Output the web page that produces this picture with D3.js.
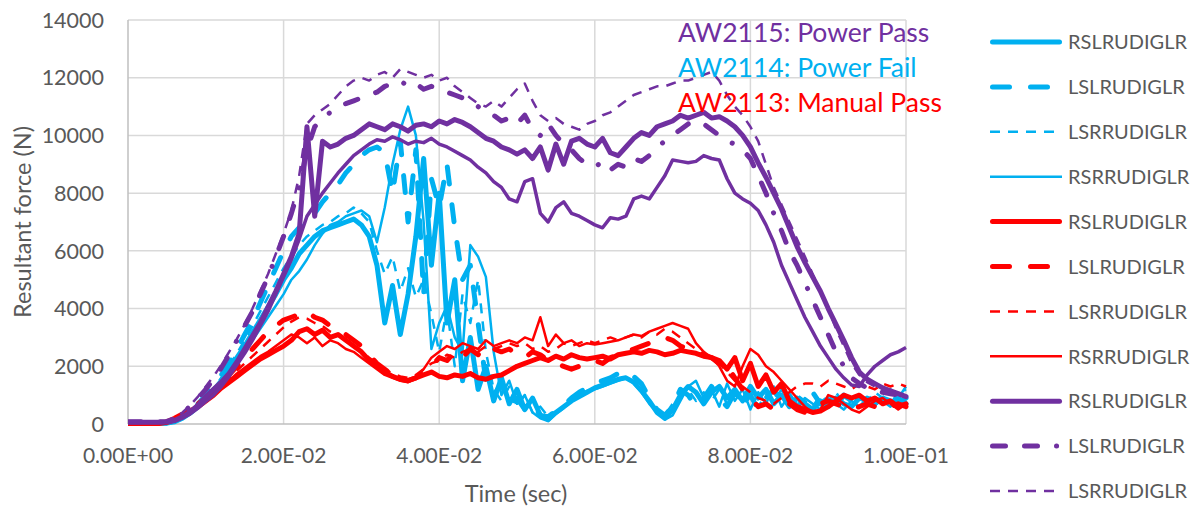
<!DOCTYPE html>
<html>
<head>
<meta charset="utf-8">
<script src="https://cdn.jsdelivr.net/npm/d3@7/dist/d3.min.js"></script>
<style>
  html, body { margin: 0; padding: 0; background: #ffffff; }
  svg { display: block; font-family: Lato, "Open Sans", sans-serif; }
</style>
</head>
<body>
<svg id="chart" width="1198" height="508"></svg>
<script>
// Sample times in milliseconds (1 ms resolution, 0 .. 100 ms)
const timeMs = d3.range(0, 101);

// Axis tick values and labels
const yTicks = [0, 2000, 4000, 6000, 8000, 10000, 12000, 14000];
const xTicks = [0, 0.02, 0.04, 0.06, 0.08, 0.1];
const xTickLabels = ["0.00E+00", "2.00E-02", "4.00E-02", "6.00E-02", "8.00E-02", "1.00E-01"];

// AW2114: Power Fail  (N)
const blueRSL = [
  20,20,20,20,20,30,80,200,380,600,
  850,1150,1500,1900,2300,2700,3150,3600,4050,4500,
  5000,5400,5900,6200,6500,6700,6800,6900,7000,7100,
  6900,6500,5500,3500,4800,3100,4500,6500,9200,5500,
  8000,3500,5000,1500,3000,1200,2000,800,1600,700,
  1200,500,900,300,150,400,600,800,950,1100,
  1250,1350,1450,1550,1600,1450,1150,800,400,200,
  500,1000,1300,1100,700,1100,1300,900,1200,800,
  1300,900,1200,700,1000,600,900,700,500,800,
  600,900,700,600,900,800,700,900,800,700,
  900];
const blueLSL = [
  20,20,20,20,20,40,100,250,450,700,
  1000,1300,1700,2100,2600,3100,3600,4200,4800,5400,
  6000,6500,6800,7000,7300,7700,8000,8300,8700,9000,
  9300,9500,9600,9400,8000,9800,7000,9500,4500,8500,
  7500,9000,6800,5000,5500,3500,1500,1000,1400,700,
  900,500,700,300,250,450,650,900,1100,1250,
  1400,1500,1600,1750,1850,1650,1400,900,500,300,
  600,1200,1000,600,900,1300,900,600,1100,700,
  1000,500,900,1200,700,1000,600,900,1100,700,
  900,600,1000,800,600,900,700,1000,800,900,
  700];
const blueLSR = [
  10,10,10,10,10,30,90,220,420,650,
  930,1250,1600,2000,2450,2900,3400,3900,4400,4900,
  5400,5800,6200,6500,6700,6900,7000,7200,7300,7500,
  7300,7000,6000,5200,5800,4600,5400,4400,5000,3800,
  2500,4000,2000,4500,3500,5000,2500,1200,800,1300,
  600,1000,400,600,250,400,600,850,1000,1150,
  1250,1350,1450,1550,1650,1450,1150,800,500,300,
  700,1000,1200,800,1100,800,1200,700,1000,800,
  1100,600,1000,800,1200,700,1000,800,600,1000,
  800,1100,700,900,1000,800,1100,900,1200,1000,
  1200];
const blueRSR = [
  10,10,10,10,10,20,70,180,350,550,
  800,1100,1400,1750,2100,2500,2900,3300,3700,4100,
  4500,5000,5300,5700,6200,6600,6900,7000,7200,7300,
  7400,7200,6300,7500,9000,10200,11000,10000,7000,2600,
  3500,4100,3000,2500,6200,5800,5100,2500,1000,1500,
  700,1000,400,200,100,350,550,800,950,1100,
  1200,1300,1400,1500,1600,1400,1100,700,400,150,
  300,800,1300,1500,900,1200,600,1400,800,1200,
  500,1100,700,1300,600,1000,500,900,700,500,
  900,700,500,800,600,900,700,800,600,900,
  1300];

// AW2113: Manual Pass  (N)
const redRSL = [
  0,0,0,0,20,60,150,300,450,600,
  800,1000,1250,1450,1650,1850,2050,2250,2400,2550,
  2700,2900,3200,3300,3100,3250,3000,3100,2900,2700,
  2500,2200,2000,1800,1650,1550,1500,1600,1700,1800,
  1650,1600,1700,1650,1750,1600,1550,1650,1700,1850,
  2000,2100,2200,2300,2200,2350,2250,2400,2300,2250,
  2300,2350,2250,2400,2450,2500,2450,2550,2500,2400,
  2450,2550,2500,2450,2350,2300,2200,1900,2300,1500,
  2100,1300,1700,1100,1400,800,600,500,400,450,
  600,800,1000,900,1000,800,900,700,800,600,
  700];
const redLSL = [
  0,0,0,0,30,80,200,350,500,700,
  900,1150,1400,1700,2000,2300,2600,2900,3200,3400,
  3600,3700,3800,3900,3700,3600,3400,3300,3100,2900,
  2700,2400,2100,1900,1700,1600,1500,1600,1800,2000,
  2300,2200,2500,2300,2600,2400,2700,2600,2500,2600,
  2400,2300,2500,2400,2200,2100,2000,1900,2000,2100,
  2200,2100,2300,2400,2500,2600,2700,2800,2900,3000,
  2900,2700,2600,2500,2400,2300,2100,2000,1600,1200,
  900,600,700,500,600,700,500,400,600,700,
  800,700,600,500,600,700,600,500,600,700,
  600];
const redLSR = [
  0,0,0,10,40,100,200,350,500,700,
  900,1100,1350,1600,1850,2100,2350,2600,2850,3100,
  3350,3550,3700,3650,3500,3400,3200,3100,2900,2700,
  2500,2300,2100,1900,1750,1650,1600,1700,1900,2100,
  2200,2400,2300,2500,2600,2500,2700,2600,2700,2800,
  2700,2800,2600,2700,2500,2600,2800,2700,2800,2900,
  2800,2900,3000,2900,3000,3100,3000,3200,3100,3300,
  3200,3000,2800,2600,2400,2300,2100,1800,1500,1300,
  1100,900,800,700,900,1100,1300,1400,1400,1300,
  1500,1400,1300,1200,1400,1300,1200,1400,1300,1400,
  1300];
const redRSR = [
  0,0,0,0,20,70,150,280,450,650,
  850,1050,1300,1500,1750,1950,2150,2350,2500,2700,
  2900,3100,3000,2800,3000,2700,2900,2800,2600,2500,
  2300,2100,1900,1700,1600,1500,1450,1600,1900,2300,
  2500,2700,2600,2800,2700,2600,2900,2700,2800,2900,
  2800,3000,2900,3700,2700,3100,2800,2900,2700,2800,
  2750,2800,2850,2900,3000,3100,3050,3200,3300,3400,
  3500,3400,3300,2800,2500,2300,2000,1500,1300,2000,
  2600,2400,2000,1800,1500,1200,900,600,400,500,
  1000,900,700,500,400,600,800,900,700,500,
  700];

// AW2115: Power Pass  (N)
const purpleRSL = [
  60,60,60,60,60,70,120,250,420,650,
  950,1200,1450,1750,2150,2600,3050,3500,4050,4600,
  5200,5800,6600,10300,7200,9800,9600,9700,9900,10000,
  10200,10400,10300,10200,10400,10300,10150,10350,10400,10300,
  10500,10400,10550,10450,10300,10100,9900,9800,9600,9500,
  9350,9500,9200,9600,8800,9700,9000,9800,9900,9700,
  9600,9900,9400,9300,9600,9900,10100,10000,10300,10400,
  10500,10700,10600,10700,10800,10600,10650,10500,10300,10000,
  9600,9050,8550,8000,7450,6800,6150,5600,5100,4600,
  4000,3450,2900,2300,1800,1550,1400,1250,1150,1050,
  950];
const purpleLSL = [
  80,80,80,80,80,90,180,380,620,900,
  1200,1550,1950,2400,2900,3400,3900,4500,5100,5800,
  6500,7300,8200,9500,10300,10600,10800,11000,11100,11200,
  11300,11400,11500,11700,11800,11900,11700,11800,11600,11700,
  11600,11500,11400,11300,11200,11000,10800,10700,10500,10600,
  10400,10700,10200,10000,10400,10000,9700,9500,9200,9000,
  8900,9100,8800,9000,8900,9200,9100,9300,9600,9800,
  10000,10200,10400,10500,10400,10200,10000,9800,9700,9500,
  9200,8600,8000,7300,6700,6000,5500,4900,4300,3700,
  3100,2500,2000,1600,1400,1250,1150,1100,1050,1000,
  1000];
const purpleLSR = [
  70,70,70,70,70,100,200,400,650,950,
  1300,1650,2050,2500,2950,3450,4000,4600,5200,5900,
  6600,7400,8600,10400,10700,10900,11100,11400,11700,11900,
  12000,11900,12100,12200,12000,12300,12200,12100,12000,12100,
  11900,12000,11700,11500,11300,11100,11000,11200,11000,11300,
  11600,11800,11200,10700,10500,10600,10400,10300,10200,10400,
  10500,10700,10800,11000,11200,11400,11500,11600,11700,11700,
  11800,11900,11900,12000,12100,12200,11900,11400,11000,10700,
  10300,9800,9000,8200,7600,7000,6400,5800,5200,4600,
  4000,3300,2700,2100,1700,1450,1300,1200,1100,1000,
  950];
const purpleRSR = [
  50,50,50,50,50,60,100,200,350,550,
  780,1000,1300,1650,2050,2450,2900,3400,3900,4500,
  5100,5700,6400,7200,7600,8000,8350,8700,9000,9300,
  9500,9700,9850,9800,9950,9850,9700,9800,9750,9900,
  9700,9600,9450,9300,9150,8900,8700,8400,8200,7800,
  7700,8400,8500,7300,7000,7500,7700,7300,7200,7050,
  6900,6800,7150,7100,7200,7800,7900,7800,8200,8600,
  9150,9100,9050,9100,9300,9200,9150,8500,8000,7800,
  7650,7400,6900,6300,5500,4900,4300,3700,3200,2700,
  2300,1900,1600,1350,1300,1700,2000,2200,2400,2500,
  2650];

// Group annotations
const groupLabels = ["AW2115: Power Pass", "AW2114: Power Fail", "AW2113: Manual Pass"];
const groupColors = ["#7030a0", "#00b0f0", "#ff0000"];

// Line styles per sensor
const styles = {
  RSL: { width: 5, dash: null, cap: "round" },
  LSL: { width: 5, dash: "17,21", cap: "round" },
  LSLdot: { width: 5, dash: "13,19,13,19,0.1,19", cap: "round" },
  LSR: { width: 2.5, dash: "10,8", cap: "butt" },
  RSR: { width: 2.5, dash: null, cap: "butt" },
  RSRwide: { width: 3.5, dash: null, cap: "butt" }
};

const blue = "#00b0f0", red = "#ff0000", purple = "#7030a0";
const series = [
  { name: "RSLRUDIGLR", values: blueRSL, color: blue, style: styles.RSL },
  { name: "LSLRUDIGLR", values: blueLSL, color: blue, style: styles.LSL },
  { name: "LSRRUDIGLR", values: blueLSR, color: blue, style: styles.LSR },
  { name: "RSRRUDIGLR", values: blueRSR, color: blue, style: styles.RSR },
  { name: "RSLRUDIGLR", values: redRSL, color: red, style: styles.RSL },
  { name: "LSLRUDIGLR", values: redLSL, color: red, style: styles.LSL },
  { name: "LSRRUDIGLR", values: redLSR, color: red, style: styles.LSR },
  { name: "RSRRUDIGLR", values: redRSR, color: red, style: styles.RSR },
  { name: "RSLRUDIGLR", values: purpleRSL, color: purple, style: styles.RSL },
  { name: "LSLRUDIGLR", values: purpleLSL, color: purple, style: styles.LSLdot },
  { name: "LSRRUDIGLR", values: purpleLSR, color: purple, style: styles.LSR },
  { name: "RSRRUDIGLR", values: purpleRSR, color: purple, style: styles.RSRwide }
];

const W = 1198, H = 508;
const svg = d3.select("#chart");
const plot = { left: 128, right: 906, top: 20, bottom: 424 };
const textColor = "#595959";

const x = d3.scaleLinear().domain([0, 0.1]).range([plot.left, plot.right]);
const y = d3.scaleLinear().domain([0, 14000]).range([plot.bottom, plot.top]);

svg.append("rect").attr("width", W).attr("height", H).attr("fill", "#ffffff");

// Gridlines
const grid = svg.append("g");
grid.selectAll("line.h").data(yTicks.slice(1)).join("line")
  .attr("x1", plot.left).attr("x2", plot.right)
  .attr("y1", d => y(d)).attr("y2", d => y(d))
  .attr("stroke", "#d9d9d9").attr("stroke-width", 1.5);
grid.selectAll("line.v").data(xTicks.slice(1)).join("line")
  .attr("x1", d => x(d)).attr("x2", d => x(d))
  .attr("y1", plot.top).attr("y2", plot.bottom)
  .attr("stroke", "#d9d9d9").attr("stroke-width", 1.5);

// Axis lines
svg.append("line").attr("x1", plot.left).attr("x2", plot.left)
  .attr("y1", plot.top).attr("y2", plot.bottom)
  .attr("stroke", "#bfbfbf").attr("stroke-width", 1.5);
svg.append("line").attr("x1", plot.left).attr("x2", plot.right)
  .attr("y1", plot.bottom).attr("y2", plot.bottom)
  .attr("stroke", "#bfbfbf").attr("stroke-width", 1.5);

// Tick labels
svg.append("g").selectAll("text").data(yTicks).join("text")
  .attr("x", 104).attr("y", d => y(d)).attr("dy", "0.36em")
  .attr("text-anchor", "end").attr("font-size", 21.5).attr("fill", textColor)
  .text(d => d);
svg.append("g").selectAll("text").data(xTicks).join("text")
  .attr("x", d => x(d)).attr("y", 463)
  .attr("text-anchor", "middle").attr("font-size", 21).attr("fill", textColor)
  .text((d, i) => xTickLabels[i]);

// Axis titles
svg.append("text")
  .attr("transform", "translate(31,222) rotate(-90)")
  .attr("text-anchor", "middle").attr("font-size", 23.5).attr("fill", textColor)
  .text("Resultant force (N)");
svg.append("text")
  .attr("x", 516).attr("y", 502)
  .attr("text-anchor", "middle").attr("font-size", 23.5).attr("fill", textColor)
  .text("Time (sec)");

// Series lines
svg.append("clipPath").attr("id", "plotClip").append("rect")
  .attr("x", plot.left).attr("y", plot.top - 4)
  .attr("width", plot.right - plot.left + 4).attr("height", plot.bottom - plot.top + 6);

const line = d3.line()
  .x((d, i) => x(timeMs[i] / 1000))
  .y(d => y(d));

const lines = svg.append("g").attr("clip-path", "url(#plotClip)");
series.forEach(s => {
  lines.append("path")
    .attr("d", line(s.values))
    .attr("fill", "none")
    .attr("stroke", s.color)
    .attr("stroke-width", s.style.width)
    .attr("stroke-dasharray", s.style.dash)
    .attr("stroke-linecap", s.style.cap)
    .attr("stroke-linejoin", "round");
});

// Group annotations
svg.append("g").selectAll("text").data(groupLabels).join("text")
  .attr("x", 678).attr("y", (d, i) => 42 + i * 35)
  .attr("font-size", 26.5).attr("fill", (d, i) => groupColors[i])
  .text(d => d);

// Legend: rows continue down the right side; only rows that fit the canvas are drawn
const legendRowH = 44.9;
const legendRows = series
  .map((s, i) => ({ s, ly: 42 + i * legendRowH }))
  .filter(r => r.ly + 12 <= H);
const legend = svg.append("g");
legendRows.forEach(({ s, ly }) => {
  const inset = s.style.cap === "round" ? 2.5 : 0;
  legend.append("line")
    .attr("x1", 990 + inset)
    .attr("x2", 1062 - inset)
    .attr("y1", ly).attr("y2", ly)
    .attr("stroke", s.color)
    .attr("stroke-width", s.style.width)
    .attr("stroke-dasharray", s.style.dash)
    .attr("stroke-linecap", s.style.cap);
  legend.append("text")
    .attr("x", 1068).attr("y", ly).attr("dy", "0.36em")
    .attr("font-size", 20).attr("fill", textColor)
    .text(s.name);
});
</script>
</body>
</html>
